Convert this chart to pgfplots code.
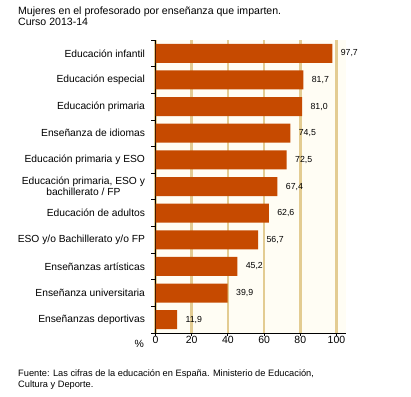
\documentclass[border=0pt]{standalone}
\usepackage{pgfplots}
\pgfplotsset{compat=1.18}
\usepackage{fontspec}
\setmainfont{Liberation Sans}
\definecolor{barc}{HTML}{C64A00}
\definecolor{gridc}{HTML}{E3CC92}
\definecolor{bgc}{HTML}{FFFDF4}
\begin{document}
\begin{tikzpicture}
\useasboundingbox (0,0) rectangle (411bp,397bp);
\fill[white] (0,0) rectangle (411bp,397bp);
\node[anchor=base west,inner sep=0,font=\fontsize{10.6}{12}\selectfont] at (18bp,382bp) {Mujeres en el profesorado por enseñanza que imparten.};
\node[anchor=base west,inner sep=0,font=\fontsize{10.6}{12}\selectfont] at (18bp,371bp) {Curso 2013-14};
\node[anchor=base west,inner sep=0,font=\fontsize{9.3}{11}\selectfont] at (18bp,21bp) {Fuente: Las cifras de la educación en España. Ministerio de Educación,};
\node[anchor=base west,inner sep=0,font=\fontsize{9.3}{11}\selectfont] at (18bp,10bp) {Cultura y Deporte.};
\node[anchor=base east,inner sep=0,font=\fontsize{10.5}{12}\selectfont] at (144bp,49bp) {\%};
\begin{axis}[
  at={(155.5bp,64bp)}, anchor=south west,
  scale only axis, width=190bp, height=293bp,
  xbar, bar width=19bp,
  xmin=0, xmax=105, ymin=-0.5, ymax=10.5, y dir=reverse,
  xtick={0,20,...,100},
  ytick={0,...,10},
  yticklabels={Educación infantil,Educación especial,Educación primaria,Enseñanza de idiomas,Educación primaria y ESO,{Educación primaria, ESO y\\bachillerato / FP},Educación de adultos,ESO y/o Bachillerato y/o FP,Enseñanzas artísticas,Enseñanza universitaria,Enseñanzas deportivas},
  yticklabel style={align=center,font=\fontsize{10.3}{11.5}\selectfont, xshift=-7bp},
  xticklabel style={font=\fontsize{10.5}{12}\selectfont},
  /pgf/number format/assume math mode=true,
  minor ytick={-0.5,0.5,...,10.5},
  major tick length=0pt,
  minor tick length=4bp,
  tick align=outside,
  axis x line*=bottom, axis y line*=left,
  axis line style={black, line width=0.8pt},
  x axis line style={-}, y axis line style={-},
  every minor tick/.style={black, line width=0.8pt},
  extra x ticks={0,20,...,100}, extra x tick labels={},
  extra x tick style={major tick length=3bp, grid=none, tick style={black,line width=0.8pt}},
  xmajorgrids, major grid style={gridc, line width=2.5bp},
  axis background/.style={fill=bgc},
  nodes near coords,
  nodes near coords style={anchor=west, xshift=5bp, font=\fontsize{8.8}{10}\selectfont, /pgf/number format/.cd, fixed, precision=1, zerofill, use comma, assume math mode=true},
  clip=false,
]
\addplot[fill=barc, draw=none] coordinates {
(97.7,0) (81.7,1) (81.0,2) (74.5,3) (72.5,4) (67.4,5) (62.6,6) (56.7,7) (45.2,8) (39.9,9) (11.9,10)
};
\end{axis}
\end{tikzpicture}
\end{document}
